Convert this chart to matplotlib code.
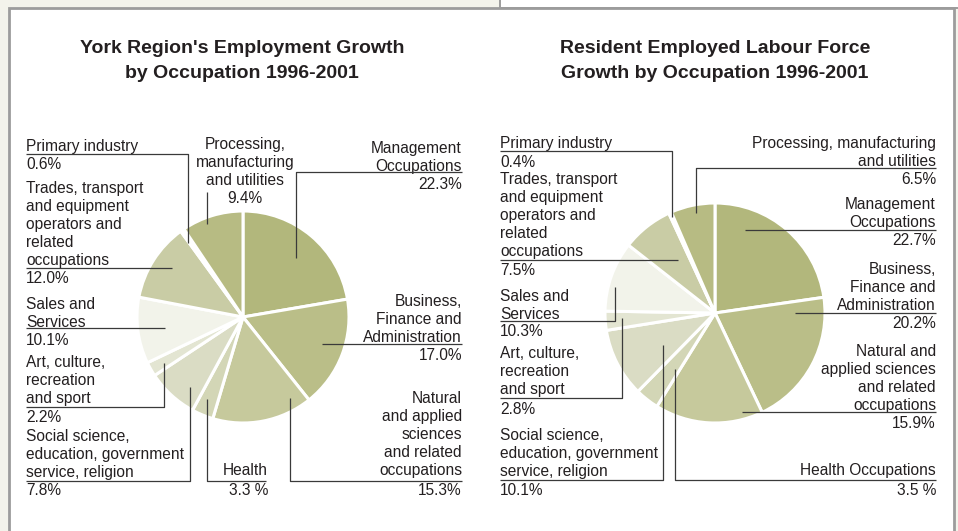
import matplotlib.pyplot as plt
from matplotlib.patches import Rectangle

plt.rcParams['font.family'] = ['Liberation Sans', 'DejaVu Sans']

W, H = 958, 531
INK = '#231f20'
LEAD = '#3a3a3a'

# occupations, clockwise from 12 o'clock
occupations = ['Management', 'Business', 'Natural', 'Health', 'Social',
               'Art', 'Sales', 'Trades', 'Primary', 'Processing']
york_growth = [22.3, 17.0, 15.3, 3.3, 7.8, 2.2, 10.1, 12.0, 0.6, 9.4]
resident_growth = [22.7, 20.2, 15.9, 3.5, 10.1, 2.8, 10.3, 7.5, 0.4, 6.5]
wedge_colors = ['#b2b77c', '#babe88', '#c6c99c', '#d3d6b6', '#dadcc4',
                '#e3e5d2', '#f2f3ea', '#c9cca5', '#ffffff', '#b7bb83']

york_titles = ["York Region's Employment Growth", "by Occupation 1996-2001"]
resident_titles = ["Resident Employed Labour Force", "Growth by Occupation 1996-2001"]

york_labels = [
    ['Management', 'Occupations'],
    ['Business,', 'Finance and', 'Administration'],
    ['Natural', 'and applied', 'sciences', 'and related', 'occupations'],
    ['Health'],
    ['Social science,', 'education, government', 'service, religion'],
    ['Art, culture,', 'recreation', 'and sport'],
    ['Sales and', 'Services'],
    ['Trades, transport', 'and equipment', 'operators and', 'related', 'occupations'],
    ['Primary industry'],
    ['Processing,', 'manufacturing', 'and utilities'],
]
resident_labels = [
    ['Management', 'Occupations'],
    ['Business,', 'Finance and', 'Administration'],
    ['Natural and', 'applied sciences', 'and related', 'occupations'],
    ['Health Occupations'],
    ['Social science,', 'education, government', 'service, religion'],
    ['Art, culture,', 'recreation', 'and sport'],
    ['Sales and', 'Services'],
    ['Trades, transport', 'and equipment', 'operators and', 'related', 'occupations'],
    ['Primary industry'],
    ['Processing, manufacturing', 'and utilities'],
]

# label placement: x, alignment, first line y, percent line y, leader polyline
york_layout = [
    (462, 'right', 147, 183, [(462, 172), (296, 172), (296, 258)]),
    (462, 'right', 300, 354, [(462, 344), (322, 344)]),
    (462, 'right', 397, 489, [(462, 481), (290, 481), (290, 398)]),
    (268, 'right', 469, 489, [(266, 481), (207, 481), (207, 399)]),
    (26, 'left', 435, 489, [(26, 481), (190, 481), (190, 387)]),
    (26, 'left', 361, 416, [(26, 407), (164, 407), (164, 363)]),
    (26, 'left', 303, 339, [(26, 328), (165, 328)]),
    (26, 'left', 187, 277, [(26, 268), (172, 268)]),
    (26, 'left', 145, 163, [(26, 154), (188, 154), (188, 243)]),
    (245, 'center', 143, 197, [(207, 192), (207, 224)]),
]
resident_layout = [
    (936, 'right', 203, 239, [(936, 230), (745, 230)]),
    (936, 'right', 268, 322, [(936, 313), (795, 313)]),
    (936, 'right', 350, 422, [(936, 412), (742, 412)]),
    (936, 'right', 469, 489, [(936, 480), (675, 480), (675, 369)]),
    (500, 'left', 434, 489, [(500, 480), (663, 480), (663, 345)]),
    (500, 'left', 352, 408, [(500, 398), (622, 398), (622, 318)]),
    (500, 'left', 295, 330, [(500, 321), (615, 321), (615, 287)]),
    (500, 'left', 178, 269, [(500, 260), (678, 260)]),
    (500, 'left', 142, 161, [(500, 151), (672, 151), (672, 217)]),
    (936, 'right', 142, 178, [(936, 168), (696, 168), (696, 213)]),
]

fig = plt.figure(figsize=(W / 100, H / 100), dpi=100, facecolor='#f3f3eb')
ax = fig.add_axes([0, 0, 1, 1])

# panel frames
ax.add_patch(Rectangle((500, -5), 470, 13, facecolor='white',
                       edgecolor='#9c9c9c', linewidth=1.4, zorder=0))
ax.add_patch(Rectangle((9, 8), 945, 540, facecolor='white',
                       edgecolor='#9c9c9c', linewidth=2.0, zorder=0))


def draw_panel(values, labels, layout, titles, cx, cy, r, tx):
    # y axis runs downward, so start at -90 and go "counterclockwise"
    ax.pie(values, colors=wedge_colors, startangle=-90, counterclock=True,
           center=(cx, cy), radius=r, frame=True,
           wedgeprops=dict(edgecolor='white', linewidth=2.2))
    for i, line in enumerate(titles):
        ax.text(tx, 53 + 25 * i, line, ha='center', va='baseline',
                fontsize=14, fontweight='bold', color=INK)
    for k, (lines, (x, ha, y0, yp, pts)) in enumerate(zip(labels, layout)):
        for j, line in enumerate(lines):
            ax.text(x, y0 + 18 * j + 6, line, ha=ha, va='baseline',
                    fontsize=11.2, color=INK)
        pct = f'{values[k]:.1f} %' if occupations[k] == 'Health' else f'{values[k]:.1f}%'
        ax.text(x, yp + 6, pct, ha=ha, va='baseline', fontsize=11.2, color=INK)
        xs, ys = zip(*pts)
        ax.plot(xs, ys, color=LEAD, linewidth=0.9, solid_capstyle='butt', zorder=5)


draw_panel(york_growth, york_labels, york_layout, york_titles, 243, 317, 106, 242)
draw_panel(resident_growth, resident_labels, resident_layout, resident_titles, 715, 313, 110, 715)

ax.set_xlim(0, W)
ax.set_ylim(H, 0)
ax.set_aspect('equal')
ax.axis('off')

fig.savefig('out.png', dpi=100, facecolor=fig.get_facecolor())
